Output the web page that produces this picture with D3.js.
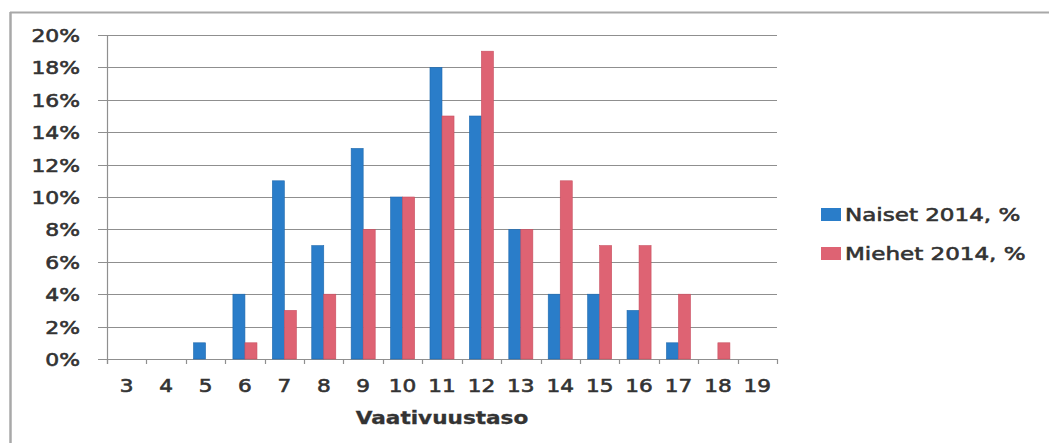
<!DOCTYPE html>
<html>
<head>
<meta charset="utf-8">
<script src="https://cdn.jsdelivr.net/npm/d3@7"></script>
<style>
  html, body { margin: 0; padding: 0; background: #fff; }
  svg { display: block; }
  text { font-family: "DejaVu Sans", Verdana, sans-serif; fill: #333; }
</style>
</head>
<body>
<svg id="chart" width="1049" height="443"></svg>
<script>
// Job demand levels on the x axis
const categories = ["3","4","5","6","7","8","9","10","11","12","13","14","15","16","17","18","19"];
// Share of employees per level, %
const naiset = [0, 0, 1, 4, 11, 7, 13, 10, 18, 15, 8, 4, 4, 3, 1, 0, 0];
const miehet = [0, 0, 0, 1, 3, 4, 8, 10, 15, 19, 8, 11, 7, 7, 4, 1, 0];
const seriesNames = ["Naiset 2014, %", "Miehet 2014, %"];
const yTicks = [0, 2, 4, 6, 8, 10, 12, 14, 16, 18, 20];
const xTitle = "Vaativuustaso";

const colors = ["#2a7dc9", "#de6373"];
const strokes = ["#1f69ad", "#c84f60"];
const series = [naiset, miehet];

const svg = d3.select("#chart");
const plot = { left: 107, right: 777, top: 35, bottom: 359 };

// outer frame
svg.append("line").attr("x1", 10).attr("x2", 1049).attr("y1", 12.5).attr("y2", 12.5)
  .attr("stroke", "#a8a8a8").attr("stroke-width", 2);
svg.append("line").attr("x1", 10.5).attr("x2", 10.5).attr("y1", 12).attr("y2", 443)
  .attr("stroke", "#a8a8a8").attr("stroke-width", 2.5);

const x0 = d3.scaleBand().domain(categories).range([plot.left, plot.right]).padding(0);
const bw = x0.bandwidth();
const x1 = d3.scaleBand().domain([0, 1]).range([bw * 0.195, bw * 0.805]).padding(0);
const y = d3.scaleLinear().domain([0, 20]).range([plot.bottom, plot.top]);

// horizontal gridlines
svg.append("g").selectAll("line").data(yTicks).join("line")
  .attr("x1", plot.left - 9).attr("x2", plot.right)
  .attr("y1", d => Math.round(y(d)) + 0.5).attr("y2", d => Math.round(y(d)) + 0.5)
  .attr("stroke", "#8f8f8f").attr("stroke-width", 1.2);

// y axis line
svg.append("line").attr("x1", plot.left + 0.5).attr("x2", plot.left + 0.5)
  .attr("y1", plot.top).attr("y2", plot.bottom + 5)
  .attr("stroke", "#8f8f8f").attr("stroke-width", 1.2);

// x axis ticks at category boundaries
const bounds = categories.map(c => x0(c)).concat([plot.right]);
svg.append("g").selectAll("line").data(bounds).join("line")
  .attr("x1", d => Math.round(d) + 0.5).attr("x2", d => Math.round(d) + 0.5)
  .attr("y1", plot.bottom).attr("y2", plot.bottom + 5)
  .attr("stroke", "#8f8f8f").attr("stroke-width", 1.2);

// bars
const groups = svg.append("g").selectAll("g").data(categories).join("g")
  .attr("transform", c => `translate(${x0(c)},0)`);
groups.selectAll("rect")
  .data((c, i) => series.map((s, k) => ({ k, v: s[i] })).filter(d => d.v > 0))
  .join("rect")
  .attr("x", d => x1(d.k))
  .attr("width", x1.bandwidth())
  .attr("y", d => y(d.v))
  .attr("height", d => y(0) - y(d.v))
  .attr("fill", d => colors[d.k])
  .attr("stroke", d => strokes[d.k]).attr("stroke-width", 0.6);

// text drawn with a slight horizontal stretch
function stretchedText(parent, x, yPos, txt, opts) {
  const g = parent.append("g").attr("transform", `translate(${x},${yPos}) scale(${opts.sx || 1.2},1)`);
  return g.append("text").text(txt)
    .attr("text-anchor", opts.anchor || "start")
    .attr("font-size", opts.size)
    .attr("font-weight", opts.weight || "normal")
    .style("stroke", "#333").style("stroke-width", opts.sw || 0.6);
}

// y tick labels
yTicks.forEach(t => {
  stretchedText(svg, 80, y(t) + 7, t + "%", { anchor: "end", size: 17.5, sx: 1.25 });
});

// x tick labels
categories.forEach(c => {
  stretchedText(svg, x0(c) + bw / 2, 392, c, { anchor: "middle", size: 18 });
});

// x axis title
stretchedText(svg, (plot.left + plot.right) / 2, 424, xTitle,
  { anchor: "middle", size: 17, weight: "bold", sw: 0.3, sx: 1.27 });

// legend
seriesNames.forEach((name, k) => {
  const ly = 208 + k * 39;
  svg.append("rect").attr("x", 821).attr("y", ly).attr("width", 20).attr("height", 13)
    .attr("fill", colors[k]);
  stretchedText(svg, 845, ly + 13, name, { anchor: "start", size: 18, sx: 1.28 });
});
</script>
</body>
</html>
